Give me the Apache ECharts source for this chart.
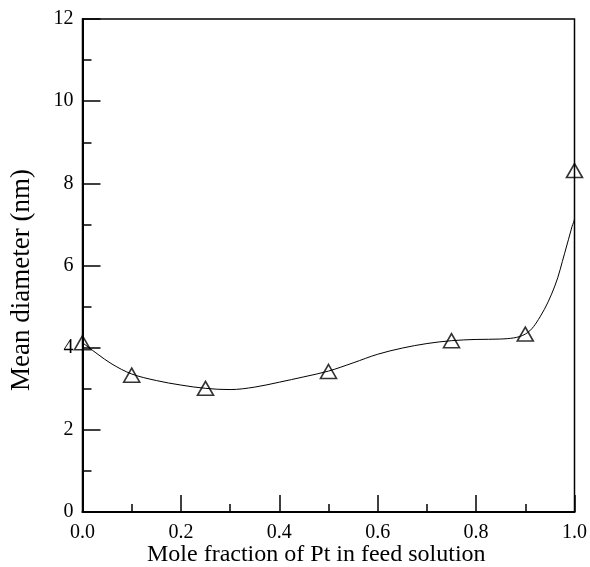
<!DOCTYPE html>
<html>
<head>
<meta charset="utf-8">
<script src="https://cdn.jsdelivr.net/npm/echarts@6/dist/echarts.min.js"></script>
<style>
  html, body { margin: 0; padding: 0; background: #fff; }
  #chart { width: 590px; height: 567px; }
</style>
</head>
<body>
<div id="chart"></div>
<script>
// Measured mean particle diameters vs. Pt mole fraction in the feed
var ptFraction = [0.0, 0.1, 0.25, 0.5, 0.75, 0.9, 1.0];
var meanDiameter = [4.12, 3.33, 3.01, 3.42, 4.17, 4.33, 8.31];

// Points along the hand-drawn guide curve
var curveX = [0.0, 0.03, 0.06, 0.1, 0.15, 0.2, 0.25, 0.3, 0.35, 0.4, 0.45, 0.5, 0.55, 0.6, 0.65, 0.7, 0.75, 0.8, 0.85, 0.9, 0.93, 0.96, 0.98, 0.995, 1.0, 1.0];
var curveY = [4.12, 3.85, 3.6, 3.36, 3.2, 3.09, 3.01, 2.98, 3.04, 3.16, 3.29, 3.43, 3.63, 3.84, 3.99, 4.1, 4.17, 4.2, 4.21, 4.33, 4.75, 5.5, 6.3, 6.95, 7.15, 8.31];

var xTitle = 'Mole fraction of Pt in feed solution';
var yTitle = 'Mean diameter (nm)';

function pairs(xs, ys) {
  return xs.map(function (x, i) { return [x, ys[i]]; });
}

var serif = '"Liberation Serif", "DejaVu Serif", serif';
var chart = echarts.init(document.getElementById('chart'), null, { renderer: 'canvas' });

chart.setOption({
  animation: false,
  backgroundColor: '#fff',
  grid: {
    left: 82.5, right: 15, top: 19, bottom: 55,
    show: true, borderColor: '#000', borderWidth: 1.5, backgroundColor: 'transparent'
  },
  xAxis: {
    type: 'value', min: 0, max: 1, interval: 0.2,
    axisLine: { show: true, lineStyle: { color: '#000', width: 2 } },
    axisTick: { show: true, inside: true, length: 17, lineStyle: { color: '#000', width: 1.5 } },
    minorTick: { show: true, splitNumber: 2, length: 8, lineStyle: { color: '#000', width: 1.5 } },
    splitLine: { show: false },
    axisLabel: {
      color: '#000', fontFamily: serif, fontSize: 20, margin: 11,
      formatter: function (v) { return v.toFixed(1); }
    }
  },
  yAxis: {
    type: 'value', min: 0, max: 12, interval: 2,
    axisLine: { show: true, lineStyle: { color: '#000', width: 2 } },
    axisTick: { show: true, inside: true, length: 18, lineStyle: { color: '#000', width: 1.5 } },
    minorTick: { show: true, splitNumber: 2, length: 9, lineStyle: { color: '#000', width: 1.5 } },
    splitLine: { show: false },
    axisLabel: { color: '#000', fontFamily: serif, fontSize: 20, margin: 9 }
  },
  graphic: [
    {
      type: 'text', left: 147, top: 543,
      style: { text: xTitle, fill: '#000', font: '24px ' + serif }
    },
    {
      type: 'text', x: 22, y: 280, rotation: Math.PI / 2,
      style: { text: yTitle, fill: '#000', font: '27px ' + serif, align: 'center', verticalAlign: 'middle' }
    }
  ],
  series: [
    {
      type: 'line',
      data: pairs(curveX, curveY),
      smooth: 0.35,
      showSymbol: false,
      lineStyle: { color: '#000', width: 1 },
      clip: false,
      z: 2
    },
    {
      type: 'scatter',
      data: pairs(ptFraction, meanDiameter),
      symbol: 'triangle',
      symbolSize: [16, 14],
      itemStyle: { color: 'rgba(255,255,255,0)', borderColor: '#000', borderWidth: 1.6 },
      clip: false,
      z: 3
    }
  ]
});
</script>
</body>
</html>
